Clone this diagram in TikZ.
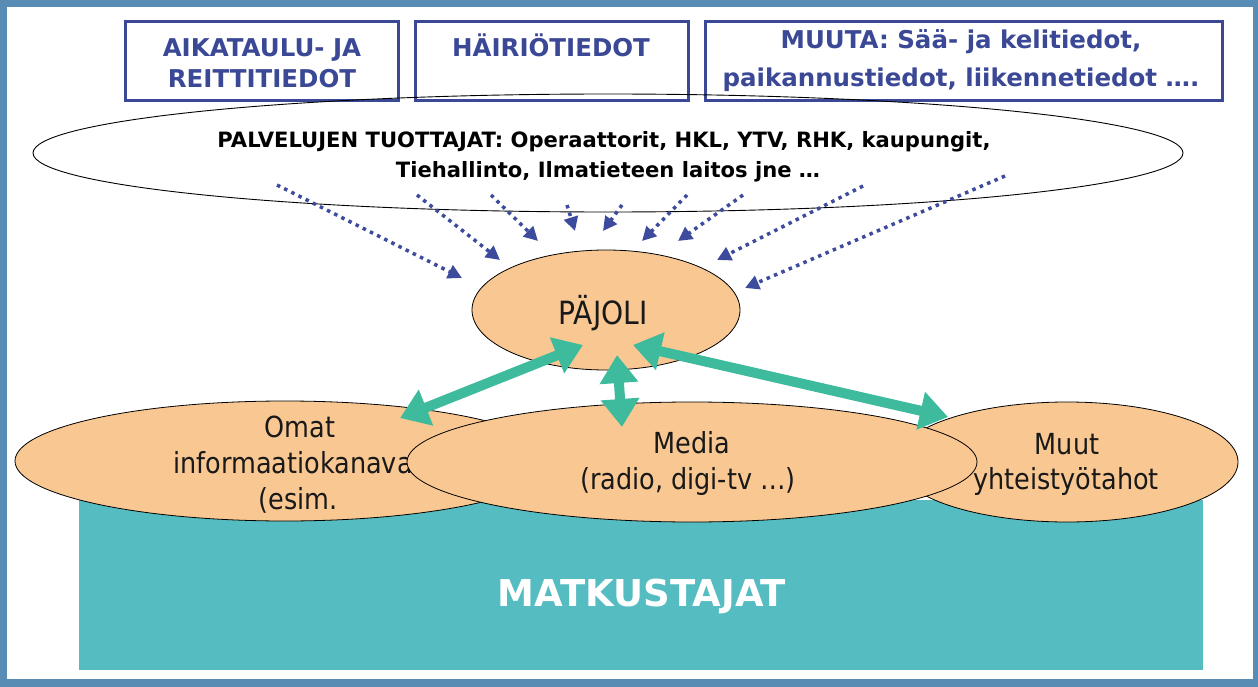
\documentclass[tikz,border=0pt]{standalone}
\usepackage{fontspec}
\setmainfont{DejaVu Sans}
\newfontfamily\tah{DejaVu Sans}[FakeStretch=0.88]
\usetikzlibrary{shapes.geometric,arrows.meta}
\definecolor{framecol}{RGB}{88,140,180}
\definecolor{boxblue}{RGB}{58,72,150}
\definecolor{dotblue}{RGB}{60,75,155}
\definecolor{orangefill}{RGB}{249,200,146}
\definecolor{tealfill}{RGB}{85,188,193}
\definecolor{greenarr}{RGB}{61,187,156}
\begin{document}
\begin{tikzpicture}[x=1pt,y=-1pt,
  boxst/.style={draw=boxblue, line width=3pt, rectangle, inner sep=0pt},
  btext/.style={text=boxblue, font=\fontsize{24.5}{29}\selectfont\bfseries, anchor=base, inner sep=0pt},
  ptext/.style={text=black, font=\fontsize{21.1}{25}\selectfont\bfseries, anchor=base, inner sep=0pt},
  ell/.style={ellipse, draw=black, line width=0.8pt, fill=orangefill, inner sep=0pt},
  etext/.style={text=black!90, font=\tah\fontsize{29}{35}\selectfont, anchor=base, inner sep=0pt},
  dotarrow/.style={dotblue, line width=3.5pt, dash pattern=on 3.5pt off 4.5pt, -{Triangle[length=14pt,width=14pt]}},
  greenarrow/.style={greenarr, line width=10pt, {Triangle[length=28pt,width=37pt]}-{Triangle[length=28pt,width=37pt]}}
]
\useasboundingbox (0,0) rectangle (1258,687);
% frame
\fill[framecol] (0,0) rectangle (1258,687);
\fill[white] (7,7) rectangle (1253,679);
% travellers block
\node[fill=tealfill, minimum width=1124pt, minimum height=170pt, inner sep=0pt] (matk) at (641,585) {};
% top boxes
\node[boxst, minimum width=273pt, minimum height=79pt] (box1) at (261.5,61.5) {};
\node[boxst, minimum width=273pt, minimum height=79pt] (box2) at (551.5,61.5) {};
\node[boxst, minimum width=517pt, minimum height=79pt] (box3) at (963.5,61.5) {};
\node[btext] (t1a) at (262,57) {AIKATAULU- JA};
\node[btext] (t1b) at (262,88) {REITTITIEDOT};
\node[btext] (t2a) at (551,57) {HÄIRIÖTIEDOT};
\node[btext] (t3a) at (961,49) {MUUTA: Sää- ja kelitiedot,};
\node[btext] (t3b) at (961,87) {paikannustiedot, liikennetiedot ….};
% producers ellipse
\node[ellipse, draw=black, line width=0.9pt, minimum width=1150pt, minimum height=118pt, inner sep=0pt] (prod) at (608,153) {};
\node[ptext] (p1) at (604,148) {PALVELUJEN TUOTTAJAT: Operaattorit, HKL, YTV, RHK, kaupungit,};
\node[ptext] (p2) at (608,178) {Tiehallinto, Ilmatieteen laitos jne …};
% dotted arrows
\coordinate (s1) at (277,185); \coordinate (e1) at (462,278);
\coordinate (s2) at (417,195); \coordinate (e2) at (500,260);
\coordinate (s3) at (491,195); \coordinate (e3) at (538,241);
\coordinate (s4) at (567,205); \coordinate (e4) at (575,231);
\coordinate (s5) at (622,205); \coordinate (e5) at (603,231);
\coordinate (s6) at (687,195); \coordinate (e6) at (642,241);
\coordinate (s7) at (743,195); \coordinate (e7) at (678,241);
\coordinate (s8) at (863,186); \coordinate (e8) at (717,260);
\coordinate (s9) at (1005,176); \coordinate (e9) at (745,288);
\foreach \i in {1,...,9} \draw[dotarrow] (s\i) -- (e\i);
% PAJOLI
\node[ell, minimum width=268pt, minimum height=120pt] (pajoli) at (606,310) {};
\node[etext, font=\tah\fontsize{32}{38}\selectfont] (pajt) at (603,324) {PÄJOLI};
% lower ellipses
\node[ell, minimum width=540pt, minimum height=120pt] (omat) at (285,461) {};
\node[etext] (om1) at (300,437) {Omat};
\node[etext] (om2) at (298,473) {informaatiokanavat};
\node[etext] (om3) at (298,509) {(esim.};
\node[ell, minimum width=342pt, minimum height=120pt] (muut) at (1067,462) {};
\node[ell, minimum width=570pt, minimum height=120pt] (media) at (692,462) {};
\node[etext] (me1) at (692,453) {Media};
\node[etext] (me2) at (688,489) {(radio, digi-tv …)};
\node[etext] (mu1) at (1067,454) {Muut};
\node[etext] (mu2) at (1066,489) {yhteistyötahot};
\node[text=white, font=\fontsize{37}{44}\selectfont\bfseries, anchor=base, inner sep=0pt] (mt) at (642,606) {MATKUSTAJAT};
% green arrows
\coordinate (g1a) at (400,418); \coordinate (g1b) at (583,345);
\coordinate (g2a) at (622,427); \coordinate (g2b) at (617,355);
\coordinate (g3a) at (948,417); \coordinate (g3b) at (633,345);
\draw[greenarrow] (g1a) -- (g1b);
\draw[greenarrow] (g2a) -- (g2b);
\draw[greenarrow] (g3a) -- (g3b);
\end{tikzpicture}
\end{document}
